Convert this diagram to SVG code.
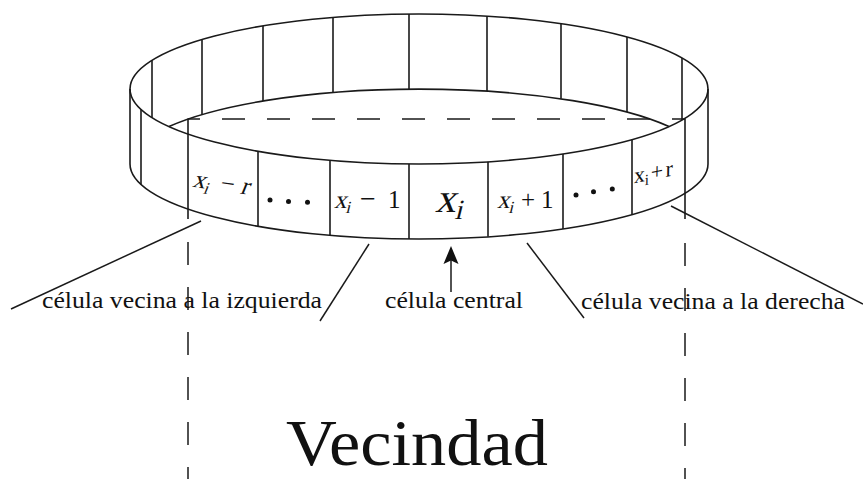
<svg xmlns="http://www.w3.org/2000/svg" width="863" height="479" viewBox="0 0 863 479">
<style>
.ln{fill:none;stroke:#1a1a1a;stroke-width:1.6;stroke-linecap:butt}
.cn{fill:none;stroke:#1a1a1a;stroke-width:1.5}
.dh{fill:none;stroke:#1a1a1a;stroke-width:1.5;stroke-dasharray:23 22}
.lbl{font-family:"Liberation Serif","Times New Roman",serif;font-size:23.5px;fill:#111}
.m{font-family:"Liberation Serif","Times New Roman",serif;fill:#111}
.dot{fill:#111}
</style>
<defs>
<marker id="ah" markerWidth="18" markerHeight="16" refX="14" refY="8" orient="auto" markerUnits="userSpaceOnUse" viewBox="0 0 18 16">
<path d="M0,0.5 L18,8 L0,15.5 L3.5,8 Z" fill="#111"/>
</marker>
</defs>
<rect width="863" height="479" fill="#fff"/>

<g id="ring">
<ellipse class="ln" cx="419" cy="89" rx="289" ry="75"/>
<path class="ln" d="M130,164 A289,75 0 0,0 708,164"/>
<path class="ln" d="M169,126.5 A289,75 0 0,1 669,126.5"/>
<line class="ln" x1="130" y1="89" x2="130" y2="164"/>
<line class="ln" x1="708" y1="89" x2="708" y2="164"/>
<line class="ln" x1="152" y1="60.3" x2="152" y2="117.7"/>
<line class="ln" x1="202" y1="39.5" x2="202" y2="114.5"/>
<line class="ln" x1="263" y1="25.9" x2="263" y2="100.9"/>
<line class="ln" x1="333" y1="17.4" x2="333" y2="92.4"/>
<line class="ln" x1="409" y1="14" x2="409" y2="89"/>
<line class="ln" x1="487" y1="16.1" x2="487" y2="91.1"/>
<line class="ln" x1="561" y1="23.7" x2="561" y2="98.7"/>
<line class="ln" x1="627" y1="36.9" x2="627" y2="111.9"/>
<line class="ln" x1="682" y1="57.9" x2="682" y2="120.1"/>
<line class="ln" x1="141" y1="109.5" x2="141" y2="184.5"/>
<line class="ln" x1="258" y1="151.3" x2="258" y2="226.3"/>
<line class="ln" x1="330" y1="160.4" x2="330" y2="235.4"/>
<line class="ln" x1="409" y1="164" x2="409" y2="239"/>
<line class="ln" x1="488" y1="161.8" x2="488" y2="236.8"/>
<line class="ln" x1="563" y1="154" x2="563" y2="229"/>
<line class="ln" x1="632" y1="139.7" x2="632" y2="214.7"/>
</g>

<g id="vecindad">
<line class="ln" x1="188" y1="118.5" x2="188" y2="219"/>
<line class="ln" x1="685" y1="118.5" x2="685" y2="219"/>
<line class="dh" x1="188" y1="119" x2="685" y2="119" stroke-dashoffset="11"/>
<line class="dh" x1="188" y1="242" x2="188" y2="479"/>
<line class="dh" x1="685" y1="243" x2="685" y2="479"/>
<text class="m" x="286" y="465" font-size="65" textLength="262" lengthAdjust="spacingAndGlyphs">Vecindad</text>
</g>

<g id="cell-xi-minus-r" transform="rotate(8 193 187)">
<text class="m" font-size="25" transform="translate(192 187) skewX(-14)"><tspan x="0" y="0">x</tspan><tspan x="12.5" y="5" font-size="17">i</tspan><tspan x="26" y="0">−</tspan><tspan x="48" y="0">r</tspan></text>
</g>
<g id="cell-dots-left">
<circle class="dot" cx="270" cy="200" r="2.5"/>
<circle class="dot" cx="288.5" cy="201.5" r="2.5"/>
<circle class="dot" cx="307.5" cy="202.3" r="2.5"/>
</g>
<g id="cell-xi-minus-1">
<text class="m" font-size="25" transform="translate(334 208) skewX(-14)"><tspan x="0" y="0">x</tspan><tspan x="12.5" y="5" font-size="17">i</tspan></text>
<text class="m" font-size="25"><tspan x="360" y="208" font-size="28">−</tspan><tspan x="388" y="208">1</tspan></text>
</g>
<g id="cell-xi">
<text class="m" font-size="41" transform="translate(435 212) skewX(-14)"><tspan x="0" y="0">x</tspan><tspan x="21" y="7" font-size="28">i</tspan></text>
</g>
<g id="cell-xi-plus-1">
<text class="m" font-size="25" transform="translate(497 208) skewX(-14)"><tspan x="0" y="0">x</tspan><tspan x="12.5" y="5" font-size="17">i</tspan></text>
<text class="m" font-size="25"><tspan x="521" y="208">+</tspan><tspan x="541" y="208">1</tspan></text>
</g>
<g id="cell-dots-right">
<circle class="dot" cx="576" cy="195" r="2.5"/>
<circle class="dot" cx="593.5" cy="191.8" r="2.5"/>
<circle class="dot" cx="612.3" cy="189" r="2.5"/>
</g>
<g id="cell-xi-plus-r" transform="rotate(-11 635 183)">
<text class="m" font-size="22" transform="translate(634 183) skewX(-12)"><tspan x="0" y="0">x</tspan><tspan x="11" y="4" font-size="15">i</tspan><tspan x="17" y="0">+</tspan><tspan x="32" y="0">r</tspan></text>
</g>

<g id="label-izquierda">
<text class="lbl" x="42" y="308" textLength="280" lengthAdjust="spacingAndGlyphs">célula vecina a la izquierda</text>
</g>
<g id="label-central">
<text class="lbl" x="385" y="308" textLength="138" lengthAdjust="spacingAndGlyphs">célula central</text>
</g>
<g id="label-derecha">
<text class="lbl" x="581" y="309" textLength="264" lengthAdjust="spacingAndGlyphs">célula vecina a la derecha</text>
</g>

<g id="connectors">
<line class="cn" x1="201" y1="221" x2="11" y2="309"/>
<line class="cn" x1="369" y1="244" x2="320" y2="321"/>
<line class="cn" x1="527" y1="243" x2="584" y2="318"/>
<line class="cn" x1="671" y1="206" x2="863" y2="304"/>
<line class="cn" x1="451" y1="292" x2="451" y2="250" marker-end="url(#ah)"/>
</g>
</svg>
